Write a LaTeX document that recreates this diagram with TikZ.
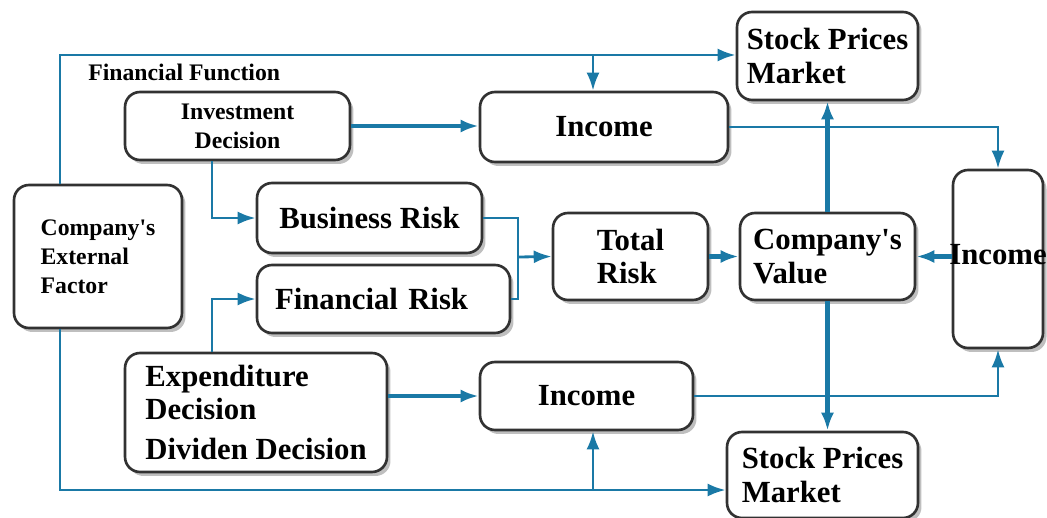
\documentclass[tikz,border=0pt]{standalone}
\usepackage{fontspec}
\setmainfont{Liberation Serif}
\usepackage{xcolor}
\usetikzlibrary{arrows.meta,shadows}
\definecolor{flowblue}{RGB}{26,121,166}
\definecolor{boxline}{RGB}{50,50,50}

\begin{document}
\begin{tikzpicture}[x=0.02cm, y=-0.02cm,
    box/.style={draw=boxline, line width=1.5pt, rounded corners=0.3cm, fill=white,
        drop shadow={shadow xshift=0.07cm, shadow yshift=-0.08cm, fill=black!50, opacity=0.5},
        font=\bfseries\fontsize{17.5}{19}\selectfont, inner sep=0pt},
    small/.style={font=\bfseries\fontsize{13.5}{16.5}\selectfont},
    flow/.style={draw=flowblue, line width=1.6pt},
    thickflow/.style={draw=flowblue, line width=2.6pt},
    tip/.style={-{Latex[length=0.36cm,width=0.26cm]}}]
    \useasboundingbox (0,0) rectangle (1047,517);

    % boxes
    \node[box, small, minimum width=4.5cm, minimum height=1.36cm, align=center] (inv) at (237.5,126) {Investment\\Decision};
    \node[box, minimum width=4.96cm, minimum height=1.4cm] (incA) at (604,127) {Income};
    \node[box, minimum width=3.62cm, minimum height=1.76cm, align=left] (spmA) at (827.5,56) {Stock Prices\\Market};
    \node[box, small, minimum width=3.36cm, minimum height=2.86cm, align=left] (ext) at (98,256.5) {Company\textquotesingle s\\External\\Factor};
    \node[box, minimum width=4.5cm, minimum height=1.4cm] (bus) at (369.5,218) {Business Risk};
    \node[box, minimum width=5.06cm, minimum height=1.36cm, text width=4.34cm, align=left] (fin) at (383.5,299) {Financial Risk};
    \node[box, minimum width=3.1cm, minimum height=1.74cm, align=left] (tot) at (630.5,256.5) {Total\\Risk};
    \node[box, minimum width=3.5cm, minimum height=1.74cm, align=left] (val) at (827.5,256.5) {Company\textquotesingle s\\Value};
    \node[box, minimum width=1.8cm, minimum height=3.56cm,
        label={[font=\bfseries\fontsize{17.5}{19}\selectfont, inner sep=0pt, yshift=0.08cm]center:Income}] (incR) at (998,259) {};
    \node[box, minimum width=5.24cm, minimum height=2.38cm, align=left] (exp) at (256,412.5) {Expenditure\\Decision\\[0.14cm]Dividen Decision};
    \node[box, minimum width=4.26cm, minimum height=1.36cm] (incB) at (586.5,396) {Income};
    \node[box, minimum width=3.82cm, minimum height=1.72cm, align=left] (spmB) at (822.5,475) {Stock Prices\\Market};
    \node[small, anchor=west, inner sep=0pt] (ff) at (88,72) {Financial Function};

    % junction points
    \coordinate (top) at (60,55);
    \coordinate (bot) at (60,490);
    \coordinate (tb) at (593,55);
    \coordinate (bb) at (593,490);
    \coordinate (lx) at (212,0);
    \coordinate (rj) at (518,257);

    % outer loop from the external factor
    \draw[flow, tip] (ext.north -| top) -- (top) -- (top -| spmA.west);
    \draw[flow, tip] (tb) -- (tb |- incA.north);
    \draw[flow, tip] (ext.south -| bot) -- (bot) -- (bot -| spmB.west);
    \draw[flow, tip] (bb) -- (bb |- incB.south);

    % decisions
    \draw[thickflow, tip] (inv.east) -- (inv.east -| incA.west);
    \draw[flow, tip] (inv.south -| lx) |- (bus.west);
    \draw[flow, tip] (exp.north -| lx) |- (fin.west);
    \draw[thickflow, tip] (exp.east |- incB.west) -- (incB.west);

    % risks
    \draw[flow] (bus.east) -| (rj) |- (fin.east);
    \draw[flow, tip] (rj) -- (tot.west);
    \draw[thickflow, tip] (tot.east) -- (val.west);

    % value and income
    \draw[flow, tip] (incA.east) -| (incR.north);
    \draw[flow, tip] (incB.east) -| (incR.south);
    \draw[thickflow, tip] (incR.west |- val.east) -- (val.east);
    \draw[thickflow, tip] (val.north) -- (spmA.south);
    \draw[thickflow, tip] (val.south) -- (val.south |- spmB.north);
\end{tikzpicture}
\end{document}
